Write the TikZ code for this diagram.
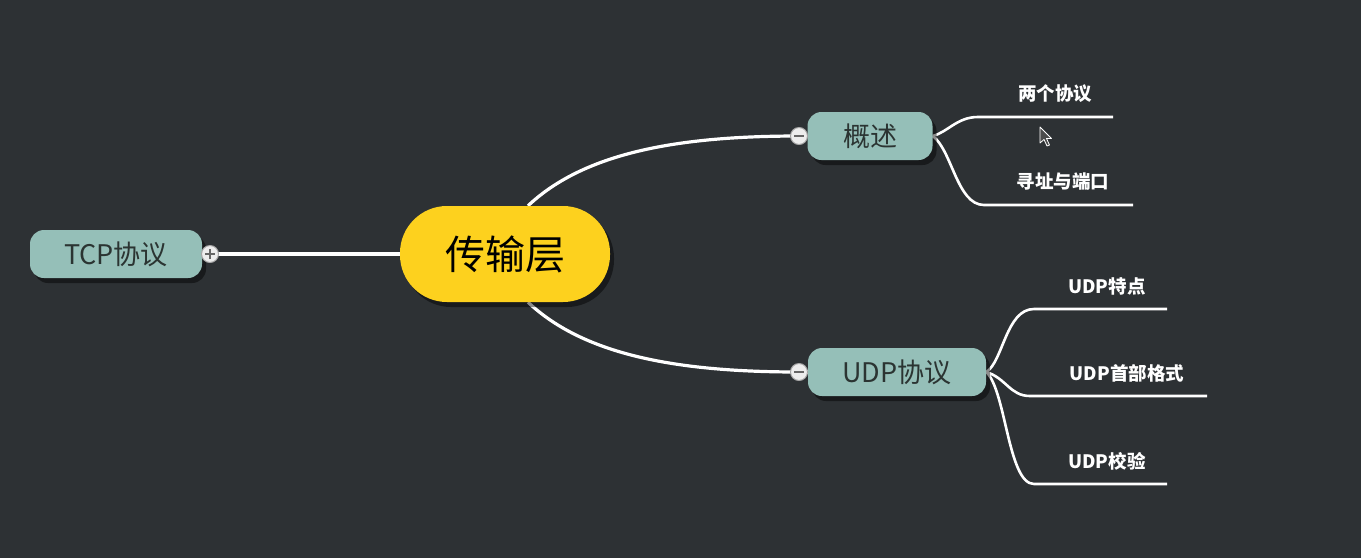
\documentclass[tikz,border=0pt]{standalone}
\usepackage{fontspec}
\setmainfont{Noto Sans CJK SC}
\usetikzlibrary{shadows}
\definecolor{bgc}{HTML}{2D3134}
\definecolor{teal}{HTML}{95BFB8}
\definecolor{gold}{HTML}{FDD11E}
\definecolor{darktext}{HTML}{2B3432}
\pgfdeclarelayer{back}
\pgfdeclarelayer{edges}
\pgfsetlayers{back,edges,main}
\begin{document}
\begin{tikzpicture}[x=1pt,y=-1pt,
  topic/.style={rectangle, rounded corners=14pt, fill=teal, text=darktext,
    minimum height=48pt, inner sep=0pt, font=\fontsize{27}{27}\selectfont,
    drop shadow={shadow xshift=4pt, shadow yshift=-5pt, fill=black, opacity=.45}},
  rootnode/.style={rectangle, rounded corners=47pt, fill=gold, text=black,
    minimum width=210pt, minimum height=96pt, inner sep=0pt,
    font=\fontsize{40}{40}\selectfont,
    drop shadow={shadow xshift=4pt, shadow yshift=-5pt, fill=black, opacity=.45}},
  toggle/.style={circle, fill=white!93!black, draw=gray!70, line width=1pt,
    minimum size=17pt, inner sep=0pt},
  sign/.style={draw=gray!80!black, line width=1.3pt},
  link/.style={draw=white, line width=3.2pt},
  sublink/.style={draw=white, line width=2.6pt},
  leaf/.style={text=white, font=\fontsize{18.5}{18.5}\selectfont\bfseries, inner sep=0pt}
]
\begin{pgfonlayer}{back}
\fill[bgc] (0,0) rectangle (1361,558);
\end{pgfonlayer}
\useasboundingbox (0,0) rectangle (1361,558);

% main nodes
\node[rootnode] (root) at (505,254) {传输层};
\node[topic, minimum width=172pt] (tcp) at (116,254) {TCP协议};
\node[topic, minimum width=125pt] (gs) at (870,136) {概述};
\node[topic, minimum width=178pt] (udp) at (897,372) {UDP协议};

% toggles
\node[toggle] (tp) at (210,254) {};
\draw[sign] ([xshift=-5pt]tp.center) -- ([xshift=5pt]tp.center)
            ([yshift=-5pt]tp.center) -- ([yshift=5pt]tp.center);
\node[toggle] (m1) at (799,136) {};
\draw[sign] ([xshift=-5pt]m1.center) -- ([xshift=5pt]m1.center);
\node[toggle] (m2) at (799,372) {};
\draw[sign] ([xshift=-5pt]m2.center) -- ([xshift=5pt]m2.center);

% leaf line ends
\coordinate (e1s) at (978,117);  \coordinate (e1) at (1113,117);
\coordinate (e2s) at (984,205);  \coordinate (e2) at (1133,205);
\coordinate (u1s) at (1034,309); \coordinate (u1) at (1167,309);
\coordinate (u2s) at (1030,396); \coordinate (u2) at (1207,396);
\coordinate (u3s) at (1034,484); \coordinate (u3) at (1167,484);

% leaf labels
\node[leaf] (l1) at (1055,94) {两个协议};
\node[leaf] (l2) at (1063,182) {寻址与端口};
\node[leaf] (l3) at (1107,286) {UDP特点};
\node[leaf] (l4) at (1127,373) {UDP首部格式};
\node[leaf] (l5) at (1107,461) {UDP校验};

\begin{pgfonlayer}{edges}
\draw[link] (tcp.east) -- (root.west);
\draw[link] ([xshift=23pt]root.north) .. controls (585,152) and (680,136) .. (m1.center);
\draw[link] ([xshift=23pt]root.south) .. controls (585,356) and (680,372) .. (m2.center);
\draw[link] (m1.center) -- (gs.west);
\draw[link] (m2.center) -- (udp.west);
% 概述 children
\draw[sublink] (gs.east) .. controls (948,132) and (957,117) .. (e1s) -- (e1);
\draw[sublink] (gs.east) .. controls (952,150) and (957,205) .. (e2s) -- (e2);
% UDP children
\draw[sublink] (udp.east) .. controls (1003,362) and (1006,309) .. (u1s) -- (u1);
\draw[sublink] (udp.east) .. controls (1006,378) and (1010,396) .. (u2s) -- (u2);
\draw[sublink] (udp.east) .. controls (1006,390) and (1008,484) .. (u3s) -- (u3);
\end{pgfonlayer}

% mouse cursor
\draw[fill=black!70, draw=white, line width=0.8pt, line join=round]
  (1040,127) -- (1040,143) -- (1044,139.5) -- (1047,146) -- (1049.5,145) -- (1046.5,138.5) -- (1051.5,138.5) -- cycle;
\end{tikzpicture}
\end{document}
